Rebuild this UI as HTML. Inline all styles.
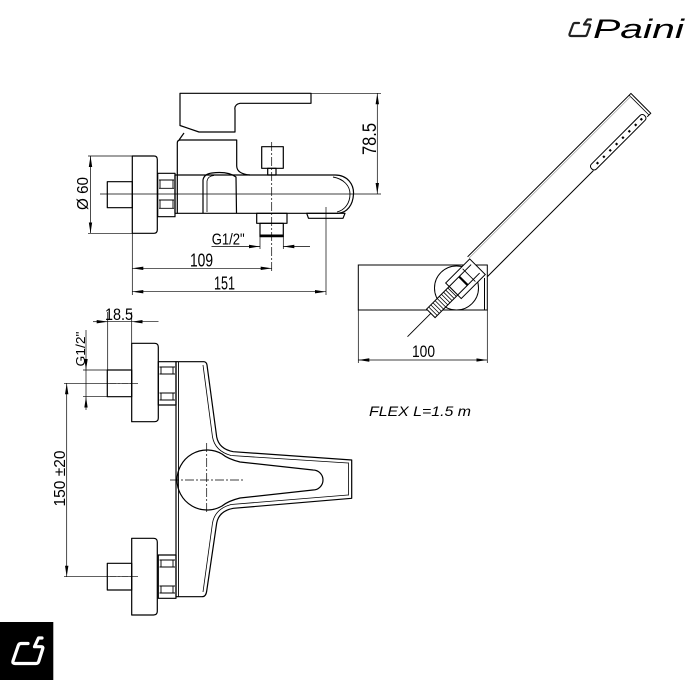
<!DOCTYPE html>
<html><head><meta charset="utf-8"><style>
html,body{margin:0;padding:0;background:#fff;}
svg{display:block;}
text{font-family:"Liberation Sans",sans-serif;fill:#000;}
</style></head><body>
<svg width="700" height="700" viewBox="0 0 700 700" xmlns="http://www.w3.org/2000/svg">
<defs>
<marker id="a" viewBox="0 0 11 4" refX="11" refY="2" markerWidth="11" markerHeight="4" markerUnits="userSpaceOnUse" orient="auto-start-reverse"><path d="M0,0.3 L11,2 L0,3.7 z" fill="#000"/></marker>
</defs>
<rect width="700" height="700" fill="#fff"/>

<!-- ============ TOP SIDE VIEW ============ -->
<g fill="none" stroke="#000" stroke-width="1.2" stroke-linejoin="round">
  <path d="M180,93.3 L311,93.3 L311,103.3 L240,103.3 Q234,104.5 235,110 L235,132 L199,132 L180,125.5 Z"/>
  <path d="M184,133 L179,140"/>
  <path d="M177.3,175 L177.3,143 Q177.3,140 180.5,140 L236.7,140 L236.7,166 Q237,174 250,175"/>
  <path d="M177.3,175 L335,175 C348,175 354,185 353.5,194 C353,205 347,213 338,213.3 L177.3,213.3"/>
  <path d="M333,177 C344,179 350,186 350,194 C350,203 345,210 337,212" stroke-width="0.9"/>
  <path d="M203,213 L203,180 Q204,174 212,173 Q228,171 236,177 L236.5,213"/>
  <path d="M207,212 L207,181 Q208,176 214,175.5" stroke-width="0.8"/>
  <rect x="175" y="175" width="2.3" height="38.3"/>
  <rect x="157.7" y="173.3" width="17.3" height="43.4"/>
  <path d="M159,180 L174,180 M159,188.3 L174,188.3 M159,200 L174,200 M159,208.3 L174,208.3 M160,180 L160,188.3 M173,180 L173,188.3 M160,200 L160,208.3 M173,200 L173,208.3" stroke-width="0.9"/>
  <path d="M132.3,156 L154,156 Q157.3,156 157.3,159.5 L157.3,229.8 Q157.3,233.3 154,233.3 L132.3,233.3 Z"/>
  <rect x="107.3" y="181.7" width="25" height="26"/>
  <rect x="261.7" y="146.7" width="21.6" height="21.6"/>
  <rect x="267.7" y="168.3" width="8.3" height="6.7"/>
  <rect x="256.7" y="213.3" width="30.3" height="10"/>
  <rect x="260" y="223.3" width="23.3" height="13.3"/>
  <line x1="260" y1="235.5" x2="283.3" y2="235.5" stroke-width="2"/>
  <path d="M306.7,213.3 L345,213.3 L343,218.3 L308.5,218.3 Z"/>
</g>
<g fill="none" stroke="#000" stroke-width="0.7">
  <line x1="100" y1="194" x2="381" y2="194"/>
  <line x1="271.7" y1="142" x2="271.7" y2="271" stroke-dasharray="9,2,2,2"/>
  <line x1="311" y1="93.3" x2="381" y2="93.3"/>
  <line x1="377.3" y1="93.3" x2="377.3" y2="194" marker-start="url(#a)" marker-end="url(#a)"/>
  <line x1="88" y1="156" x2="132.3" y2="156"/>
  <line x1="88" y1="233.3" x2="132.3" y2="233.3"/>
  <line x1="90.5" y1="156" x2="90.5" y2="233.3" marker-start="url(#a)" marker-end="url(#a)"/>
  <line x1="260" y1="236" x2="260" y2="249"/>
  <line x1="283.3" y1="236" x2="283.3" y2="249"/>
  <line x1="211.5" y1="246.5" x2="260" y2="246.5" marker-end="url(#a)"/>
  <line x1="310" y1="246.5" x2="283.3" y2="246.5" marker-end="url(#a)"/>
  <line x1="132.3" y1="233.3" x2="132.3" y2="295"/>
  <line x1="326" y1="207" x2="326" y2="295"/>
  <line x1="132.3" y1="268.3" x2="271.7" y2="268.3" marker-start="url(#a)" marker-end="url(#a)"/>
  <line x1="132.3" y1="291.7" x2="326" y2="291.7" marker-start="url(#a)" marker-end="url(#a)"/>
</g>
<text x="0" y="0" font-size="19" text-anchor="middle" textLength="32" lengthAdjust="spacingAndGlyphs" transform="translate(376,139) rotate(-90)">78.5</text>
<text x="0" y="0" font-size="16" text-anchor="middle" textLength="33" lengthAdjust="spacingAndGlyphs" transform="translate(88,193.5) rotate(-90)">Ø 60</text>
<text x="211.7" y="244.5" font-size="16" textLength="33" lengthAdjust="spacingAndGlyphs">G1/2"</text>
<text x="190" y="266.5" font-size="18" textLength="23" lengthAdjust="spacingAndGlyphs">109</text>
<text x="214" y="289.5" font-size="18" textLength="21" lengthAdjust="spacingAndGlyphs">151</text>

<!-- ============ HAND SHOWER ============ -->
<g fill="none" stroke="#000" stroke-width="1">
  <rect x="358.3" y="265" width="129" height="45"/>
  <line x1="484.5" y1="278" x2="484.5" y2="310"/>
  <line x1="358.3" y1="310" x2="358.3" y2="363" stroke-width="0.7"/>
  <line x1="487.3" y1="310" x2="487.3" y2="363" stroke-width="0.7"/>
  <line x1="358.3" y1="360" x2="487.3" y2="360" stroke-width="0.7" marker-start="url(#a)" marker-end="url(#a)"/>
  <circle cx="456.5" cy="288" r="22" fill="#fff"/>
</g>
<g transform="translate(477.5,266.7) rotate(-45)" fill="#fff" stroke="#000" stroke-width="1">
  <path d="M0,-14 L231,-14 L231,14 L226,14 M150,14 L0,14 Z"/>
  <line x1="228.5" y1="-14" x2="228.5" y2="14" stroke-width="0.8"/>
  <line x1="0" y1="-12" x2="229" y2="-12" stroke-width="0.5" stroke="#888" fill="none"/>
  <rect x="150" y="8" width="75" height="7" rx="3"/>
  <g fill="#000" stroke="none">
    <rect x="157" y="10.5" width="2.2" height="2.2"/><rect x="166" y="10.5" width="2.2" height="2.2"/>
    <rect x="175" y="10.5" width="2.2" height="2.2"/><rect x="184" y="10.5" width="2.2" height="2.2"/>
    <rect x="193" y="10.5" width="2.2" height="2.2"/><rect x="202" y="10.5" width="2.2" height="2.2"/>
    <rect x="211" y="10.5" width="2.2" height="2.2"/><rect x="219" y="10.5" width="2.2" height="2.2"/>
  </g>
  <rect x="-34" y="-11" width="34" height="22"/>
  <line x1="-34" y1="-6" x2="-3" y2="-6"/>
  <line x1="-34" y1="6" x2="-3" y2="6"/>
  <line x1="-20" y1="-6" x2="-20" y2="6" stroke-width="2.2"/>
  <line x1="-12" y1="-9" x2="-12" y2="9" stroke-width="0.8"/>
  <rect x="-66" y="-6" width="32" height="12"/>
  <path d="M-63,-6 L-63,6 M-60,-6 L-60,6 M-57,-6 L-57,6 M-54,-6 L-54,6 M-51,-6 L-51,6 M-48,-6 L-48,6 M-45,-6 L-45,6 M-42,-6 L-42,6 M-39,-6 L-39,6 M-36,-6 L-36,6" stroke-width="0.8" fill="none"/>
  <line x1="-99" y1="0" x2="-66" y2="0" stroke-width="0.9"/>
</g>
<text x="412" y="357" font-size="17" textLength="23" lengthAdjust="spacingAndGlyphs">100</text>
<text x="369" y="416" font-size="14" font-style="italic" textLength="102" lengthAdjust="spacingAndGlyphs" xml:space="preserve">FLEX L=1.5 m</text>

<!-- ============ FRONT VIEW ============ -->
<g fill="none" stroke="#000" stroke-width="1.2" stroke-linejoin="round">
  <path d="M131.7,343.3 L154.5,343.3 Q158.3,343.3 158.3,347 L158.3,418 Q158.3,421.7 154.5,421.7 L131.7,421.7 Z"/>
  <rect x="107.3" y="370" width="24.4" height="26.7"/>
  <rect x="158.3" y="361.7" width="17.7" height="43.3"/>
  <path d="M159.5,367 L175,367 M159.5,374 L175,374 M159.5,393 L175,393 M159.5,400 L175,400 M161,367 L161,374 M173,367 L173,374 M161,393 L161,400 M173,393 L173,400" stroke-width="0.9"/>
  <path d="M131.7,538.3 L153.5,538.3 Q157.3,538.3 157.3,542 L157.3,611.3 Q157.3,615 153.5,615 L131.7,615 Z"/>
  <rect x="107.3" y="563.3" width="24.4" height="26.7"/>
  <rect x="158.3" y="555" width="17.7" height="43.3"/>
  <path d="M159.5,560 L175,560 M159.5,567 L175,567 M159.5,586 L175,586 M159.5,593 L175,593 M161,560 L161,567 M173,560 L173,567 M161,586 L161,593 M173,586 L173,593" stroke-width="0.9"/>
  <path d="M176,361.7 L204,361.7 Q206.5,362 207,365 L216.7,437 Q219,449 233.3,451.7 L351.7,460 L351.7,498.3 L233.3,508.3 Q219,511 216.7,523 L206.7,591 Q206,596.7 202,596.7 L176,596.7 Z"/>
  <line x1="178.5" y1="362" x2="178.5" y2="596.5" stroke-width="0.9"/>
  <path d="M203,365 L212.5,437 Q215,451 231,455.5 L348,463" stroke-width="0.8"/>
  <path d="M348,495 L231,504.5 Q215,509 212.5,523 L203,592" stroke-width="0.8"/>
  <line x1="348.5" y1="462.5" x2="348.5" y2="495.5" stroke-width="0.8"/>
  <path d="M222,454 Q228,459 240,462 L313,470 A10,10 0 0 1 313,490 L240,498 Q228,501 222,506 A30,30 0 1 1 222,454 Z"/>
</g>
<g fill="none" stroke="#000" stroke-width="0.7">
  <line x1="170" y1="480" x2="245" y2="480" stroke-dasharray="9,2,2,2"/>
  <line x1="206.7" y1="443" x2="206.7" y2="514" stroke-dasharray="9,2,2,2"/>
  <line x1="110" y1="383.3" x2="138" y2="383.3" stroke-dasharray="6,2,2,2"/>
  <line x1="110" y1="576.7" x2="138" y2="576.7" stroke-dasharray="6,2,2,2"/>
  <line x1="107.7" y1="312" x2="107.7" y2="370"/>
  <line x1="131.7" y1="312" x2="131.7" y2="343"/>
  <line x1="93" y1="321.7" x2="107.7" y2="321.7" marker-end="url(#a)"/>
  <line x1="158.5" y1="321.7" x2="131.7" y2="321.7" marker-end="url(#a)"/>
  <line x1="107.7" y1="321.7" x2="131.7" y2="321.7"/>
  <line x1="83" y1="370" x2="107.3" y2="370"/>
  <line x1="83" y1="396.7" x2="107.3" y2="396.7"/>
  <line x1="86" y1="330" x2="86" y2="370" marker-end="url(#a)"/>
  <line x1="86" y1="410" x2="86" y2="396.7" marker-end="url(#a)"/>
  <line x1="86" y1="370" x2="86" y2="396.7"/>
  <line x1="64" y1="383.3" x2="134" y2="383.3"/>
  <line x1="64" y1="576.7" x2="134" y2="576.7"/>
  <line x1="66.7" y1="383.3" x2="66.7" y2="576.7" marker-start="url(#a)" marker-end="url(#a)"/>
</g>
<text x="105" y="320" font-size="17" textLength="28" lengthAdjust="spacingAndGlyphs">18.5</text>
<text x="0" y="0" font-size="13" text-anchor="middle" textLength="35" lengthAdjust="spacingAndGlyphs" transform="translate(85,349) rotate(-90)">G1/2"</text>
<text x="0" y="0" font-size="16" text-anchor="middle" textLength="56" lengthAdjust="spacingAndGlyphs" transform="translate(65,478.5) rotate(-90)">150 ±20</text>

<!-- ============ LOGOS ============ -->
<g fill="none" stroke="#222" stroke-width="2.2" stroke-linecap="round" stroke-linejoin="round">
  <path d="M579,23 L575,23 Q573.5,23 573,24.5 L569.5,34 Q569,36 571,36 L585,36 Q586.5,36 587,34.5 L590,26 Q590.5,24.5 589,24.5 L584,24.5 L587.5,19.5 L591,19.5"/>
</g>
<text x="593" y="38" font-size="27" font-style="italic" textLength="91" lengthAdjust="spacingAndGlyphs" fill="#222">Paini</text>

<rect x="0" y="622" width="53.3" height="58" fill="#000"/>
<path d="M28,643.5 L21,643.5 Q19,643.5 18.3,645.5 L13,661 Q12.3,663.5 15,663.5 L36,663.5 Q38,663.5 38.7,661.5 L42.8,648.5 Q43.3,646.7 41.3,646.7 L34.5,646.7 L38.5,638 L42,638" fill="none" stroke="#fff" stroke-width="3.2" stroke-linecap="round" stroke-linejoin="round"/>
</svg>
</body></html>
